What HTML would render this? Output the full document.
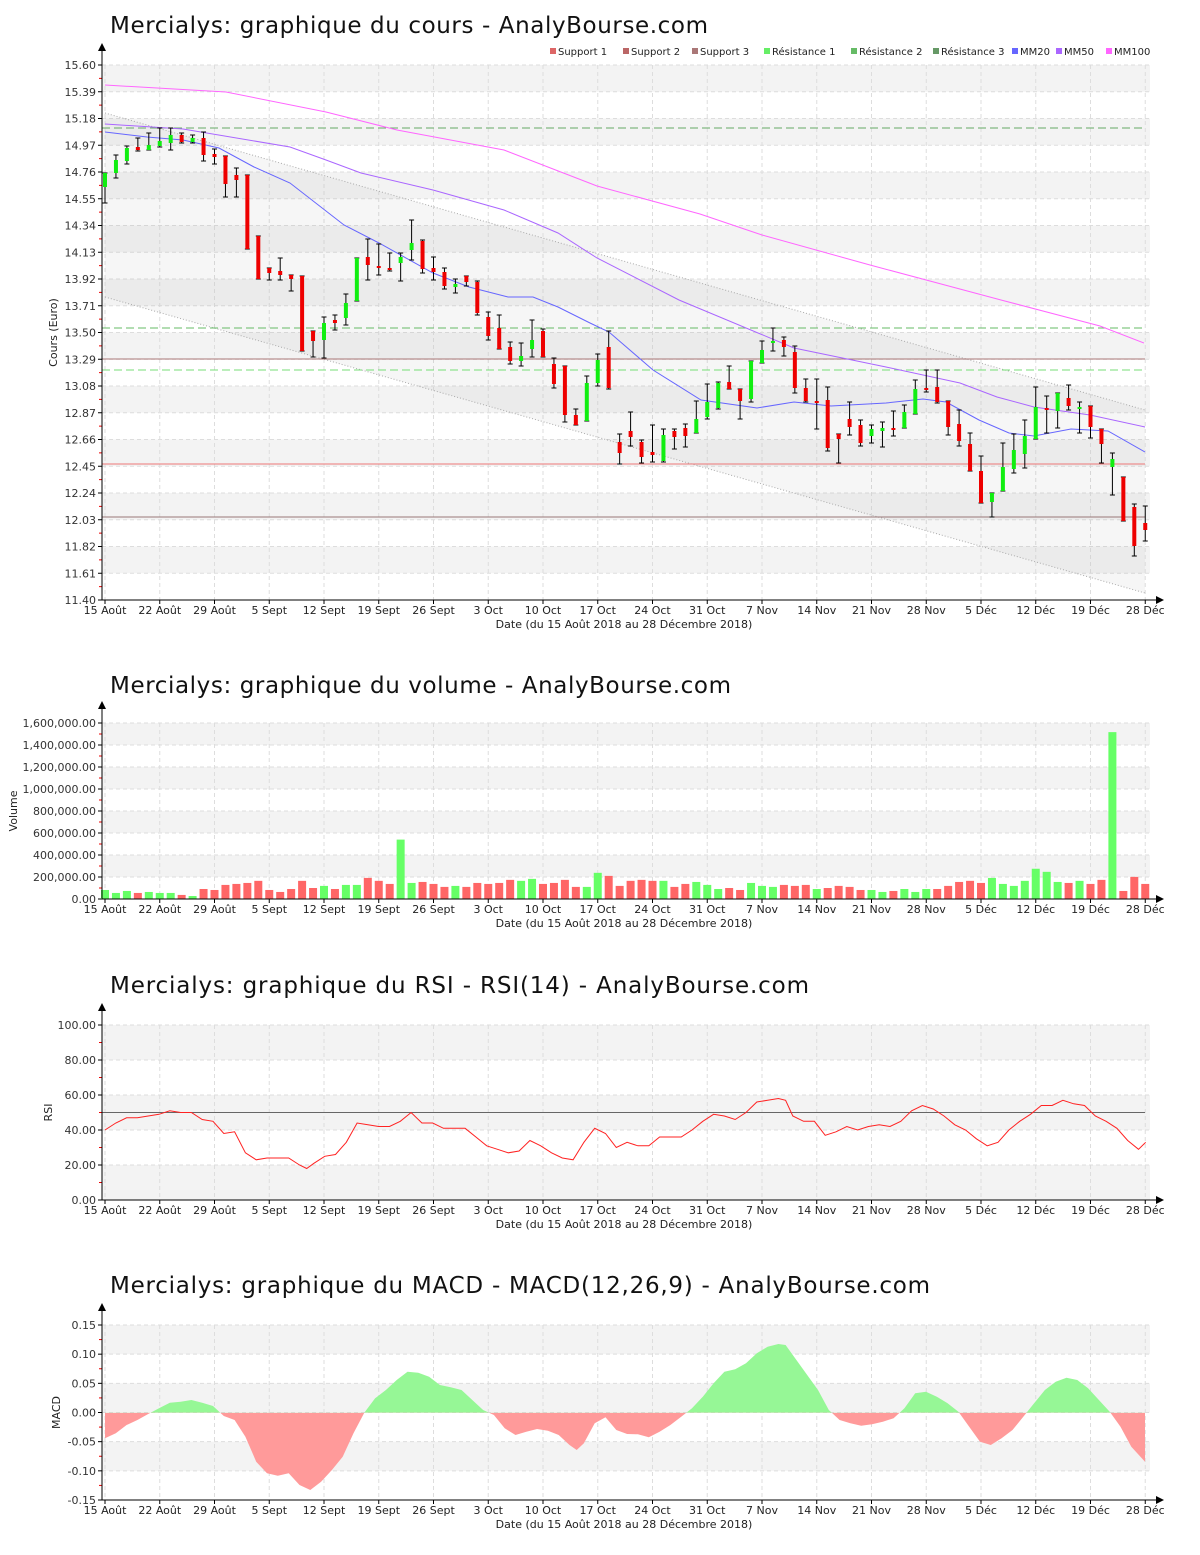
<!DOCTYPE html>
<html><head><meta charset="utf-8"><style>
body{margin:0;background:#fff;}
svg text{font-family:"DejaVu Sans","Liberation Sans",sans-serif;}
</style></head><body>
<svg id="s" width="1200" height="1550" xmlns="http://www.w3.org/2000/svg"></svg>
<script>
const S=document.getElementById('s');let h='';
const X0=105,DX=10.95,L=102,R=1150;
const xi=i=>X0+DX*i;
const zx=X=>(105+(X-89)*0.7202).toFixed(1);
const ticks=[['15 Août',0],['22 Août',5],['29 Août',10],['5 Sept',15],['12 Sept',20],['19 Sept',25],['26 Sept',30],['3 Oct',35],['10 Oct',40],['17 Oct',45],['24 Oct',50],['31 Oct',55],['7 Nov',60],['14 Nov',65],['21 Nov',70],['28 Nov',75],['5 Déc',80],['12 Déc',85],['19 Déc',90],['28 Déc',95]];
function frame(top,bot,labels,title,ty,ylab,ylx,tl){
  const n=labels.length-1, st=(bot-top)/n;
  for(let k=0;k<n;k++){ if(k%2==0) h+=`<rect x="${L}" y="${top+k*st}" width="${R-L}" height="${st}" fill="#f3f3f3"/>`;}
  for(let k=0;k<=n;k++){const y=top+k*st;h+=`<line x1="${L}" x2="${R}" y1="${y}" y2="${y}" stroke="#ddd" stroke-dasharray="4,3"/>`;
    h+=`<text x="96" y="${y+4}" font-size="11" text-anchor="end" fill="#333">${labels[k]}</text>`;
    h+=`<line x1="98" x2="102" y1="${y}" y2="${y}" stroke="#000"/>`;
    if(k<n)h+=`<line x1="99" x2="102" y1="${y+st/2}" y2="${y+st/2}" stroke="#e00"/>`;}
  ticks.forEach(([t,i])=>{const x=xi(i);h+=`<line x1="${x}" x2="${x}" y1="${top}" y2="${bot}" stroke="#ddd" stroke-dasharray="4,3"/>`;
    h+=`<line x1="${x}" x2="${x}" y1="${bot}" y2="${bot+4}" stroke="#000"/>`;
    h+=`<text x="${x}" y="${bot+14}" font-size="11" text-anchor="middle" fill="#222">${t}</text>`;});
  h+=`<text x="624" y="${bot+28}" font-size="11" text-anchor="middle" fill="#222">Date (du 15 Août 2018 au 28 Décembre 2018)</text>`;
  h+=`<text x="110" y="${ty}" font-size="23" fill="#111" textLength="${tl}" lengthAdjust="spacing">${title}</text>`;
  h+=`<text transform="translate(${ylx},${(top+bot)/2}) rotate(-90)" font-size="11" text-anchor="middle" fill="#222">${ylab}</text>`;
}
function axes(top,bot){
  h+=`<line x1="${L}" x2="${L}" y1="${top-18}" y2="${bot}" stroke="#000"/><path d="M${L-4} ${top-14}L${L} ${top-22}L${L+4} ${top-14}Z"/>`;
  h+=`<line x1="${L}" x2="1158" y1="${bot}" y2="${bot}" stroke="#000"/><path d="M1156 ${bot-4}L1164 ${bot}L1156 ${bot+4}Z"/>`;
}
// ===== PRICE
const pl=[];for(let k=0;k<=20;k++)pl.push((15.60-0.21*k).toFixed(2));
frame(65,600,pl,'Mercialys: graphique du cours - AnalyBourse.com',33,'Cours (Euro)',57,598);
h+=`<polygon points="105,113 1145,410 1145,593 105,297" fill="#888" fill-opacity="0.08"/>`;
h+=`<line x1="105" y1="113" x2="1145" y2="410" stroke="#aaa" stroke-dasharray="1,2"/>`;
h+=`<line x1="105" y1="297" x2="1145" y2="593" stroke="#aaa" stroke-dasharray="1,2"/>`;
h+=`<line x1="${L}" x2="1145" y1="128" y2="128" stroke="#6a6" stroke-dasharray="8,4"/>`;
h+=`<line x1="${L}" x2="1145" y1="328" y2="328" stroke="#6b6" stroke-dasharray="8,4"/>`;
h+=`<line x1="${L}" x2="1145" y1="370" y2="370" stroke="#7d7" stroke-dasharray="8,4"/>`;
h+=`<line x1="${L}" x2="1145" y1="359" y2="359" stroke="#a77"/>`;
h+=`<line x1="${L}" x2="1145" y1="464" y2="464" stroke="#e77"/>`;
h+=`<line x1="${L}" x2="1145" y1="517" y2="517" stroke="#977"/>`;
h+=`<polyline fill="none" stroke="#f6f" points="105,85 226,92 326,112 397,130 504,150 597,186 700,214 762,235 870,265 1001,300 1100,326 1144,343"/>`;
h+=`<polyline fill="none" stroke="#a6f" points="105,124 183,129 290,147 326,160 361,173 433,190 504,210 558,233 597,258 679,300 794,348 886,367 960,383 997,397 1034,407 1090,415 1145,427"/>`;
h+=`<polyline fill="none" stroke="#66f" points="105,132 147,137 183,140 219,148 254,167 290,183 344,225 379,243 433,273 469,287 508,297 533,297 558,307 590,323 609,332 653,370 701,400 757,408 794,402 831,406 886,403 923,399 946,402 979,420 1009,433 1034,436 1071,429 1108,431 1145,452"/>`;
const C=`g 173 187 173 203|g 160 173 155 178|g 148 161 146 164|r 147 150 138 151|g 145 150 133 150|g 141 146 128 147|g 135 143 128 150|r 135 142 133 143|g 138 142 135 143|r 138 155 132 161|r 154 157 149 164|r 156 184 156 197|r 175 180 168 197|r 175 249 175 249|r 236 279 236 279|r 268 273 268 280|r 271 275 258 280|r 275 279 275 291|r 276 351 276 351|r 331 341 331 357|g 323 340 317 358|r 320 323 315 330|g 303 318 294 325|g 258 301 258 301|r 257 265 239 280|r 266 268 244 275|r 268 270 253 271|g 257 263 253 281|g 243 250 220 260|r 241 269 240 273|r 268 272 257 280|r 272 286 268 289|g 284 287 279 293|r 276 282 276 286|r 282 313 281 315|r 317 336 312 340|r 328 349 315 349|r 347 361 342 364|g 356 361 343 366|g 340 349 320 357|r 331 357 329 357|r 364 384 358 388|r 366 415 366 422|r 415 425 409 425|g 383 421 376 421|g 360 383 354 386|r 347 388 331 389|r 442 453 434 464|r 431 437 412 446|r 442 457 440 463|r 452 455 425 462|g 435 461 429 462|r 431 437 429 449|r 428 436 424 447|g 419 433 401 433|g 402 417 384 419|g 383 408 382 409|r 382 389 366 389|r 389 401 389 419|g 361 399 361 402|g 350 363 341 363|g 341 343 328 351|r 340 347 337 356|r 352 388 346 393|r 388 401 379 402|r 401 402 379 429|r 400 448 387 451|r 434 439 434 463|r 419 427 402 435|r 425 443 420 446|g 429 436 425 443|g 428 431 422 447|r 428 430 411 436|g 412 428 405 428|g 389 414 380 414|r 388 390 370 392|r 387 402 370 403|r 401 427 401 435|r 424 441 410 446|r 444 471 433 471|r 471 503 456 503|g 493 502 493 517|g 467 491 443 491|g 450 469 434 473|g 436 454 420 468|g 407 439 387 439|r 408 409 396 433|g 393 411 393 428|r 398 406 385 410|g 407 409 402 433|r 406 427 406 438|r 429 444 429 463|g 459 467 453 495|r 477 521 477 521|r 507 546 504 556|r 523 530 506 541`.split('|');
C.forEach((c,i)=>{const [col,bt,bb,wt,wb]=c.split(' ');const x=xi(i);
  h+=`<line x1="${x}" x2="${x}" y1="${wt}" y2="${wb}" stroke="#000"/>`;
  h+=`<line x1="${x-2.5}" x2="${x+2.5}" y1="${wt}" y2="${wt}" stroke="#000"/><line x1="${x-2.5}" x2="${x+2.5}" y1="${wb}" y2="${wb}" stroke="#000"/>`;
  h+=`<rect x="${x-2}" y="${bt}" width="4" height="${Math.max(2,bb-bt)}" fill="${col=='g'?'#1e1':'#e00'}"/>`;});
axes(65,600);
[['Support 1','#d66',550],['Support 2','#b66',623],['Support 3','#a77',692],['Résistance 1','#6e6',764],['Résistance 2','#6b6',851],['Résistance 3','#696',933],['MM20','#66f',1012],['MM50','#a6f',1056],['MM100','#f6f',1106]].forEach(([t,c,x])=>{
 h+=`<rect x="${x}" y="48" width="6" height="6" fill="${c}"/><text x="${x+8}" y="55" font-size="10" fill="#222">${t}</text>`;});
// ===== VOLUME
const vl=[];for(let k=8;k>=0;k--)vl.push((k*200000).toLocaleString('en-US')+'.00');
frame(723,899,vl,'Mercialys: graphique du volume - AnalyBourse.com',693,'Volume',17,621);
const V=[82,55,73,55,64,55,55,37,27,91,82,128,137,146,165,82,64,91,165,100,119,91,128,128,192,165,137,540,146,155,137,110,119,110,146,137,146,174,165,183,137,146,174,110,110,238,210,119,165,174,165,165,110,137,155,128,91,100,82,146,119,110,128,119,128,91,100,119,110,82,82,64,73,91,64,91,91,119,155,165,146,192,137,119,165,275,247,155,146,165,137,174,1517,73,201,137];
const VC2='gggrgggrgr'+'rrrrrrrrrr'+'grggrrrggr'+'rrgrrrrrgg'+'rrrrggrrrr'+'rgrrgggrrg'+'ggrrrgrrrr'+'ggrgggrrrr'+'rgggggggrg'+'rrgrrr';
V.forEach((v,i)=>{const x=xi(i),hh=v*0.11;h+=`<rect x="${x-4}" y="${899-hh}" width="8" height="${hh}" fill="${VC2[i]=='g'?'#6f6':'#f66'}"/>`;});
axes(723,899);
// ===== RSI
frame(1025,1200,['100.00','80.00','60.00','40.00','20.00','0.00'],'Mercialys: graphique du RSI - RSI(14) - AnalyBourse.com',993,'RSI',52,699);
h+=`<line x1="${L}" x2="1145" y1="1112.5" y2="1112.5" stroke="#666"/>`;
const RS=[[89,40],[104,44],[119,47],[134,47],[149,48],[164,49],[179,51],[194,50],[209,50],[224,46],[239,45],[254,38],[269,39],[284,27],[299,23],[314,24],[329,24],[344,24],[359,20],[369,18],[379,21],[394,25],[409,26],[424,33],[439,44],[454,43],[469,42],[484,42],[499,45],[514,50],[529,44],[544,44],[559,41],[574,41],[589,41],[604,36],[619,31],[634,29],[649,27],[664,28],[679,34],[694,31],[709,27],[724,24],[739,23],[754,33],[769,41],[784,38],[799,30],[814,33],[829,31],[844,31],[859,36],[874,36],[889,36],[904,40],[919,45],[934,49],[949,48],[964,46],[979,50],[994,56],[1009,57],[1024,58],[1034,57],[1044,48],[1059,45],[1074,45],[1089,37],[1104,39],[1119,42],[1134,40],[1149,42],[1164,43],[1179,42],[1194,45],[1209,51],[1224,54],[1239,52],[1254,48],[1269,43],[1284,40],[1299,35],[1314,31],[1329,33],[1344,40],[1359,45],[1374,49],[1389,54],[1404,54],[1419,57],[1434,55],[1449,54],[1464,48],[1479,45],[1494,41],[1509,34],[1524,29],[1534,33]];
h+=`<polyline fill="none" stroke="#f22" points="${RS.map(([X,v])=>`${zx(X)},${(1200-v*1.75).toFixed(1)}`).join(' ')}"/>`;
axes(1025,1200);
// ===== MACD
frame(1325,1500,['0.15','0.10','0.05','0.00','-0.05','-0.10','-0.15'],'Mercialys: graphique du MACD - MACD(12,26,9) - AnalyBourse.com',1293,'MACD',60,820);
const M=[[89,385],[104,370],[119,345],[134,330],[149,312],[164,295],[179,278],[194,275],[209,270],[224,278],[239,288],[254,318],[269,330],[284,380],[299,455],[314,490],[329,497],[344,490],[359,525],[374,540],[389,515],[404,480],[419,440],[434,370],[449,308],[464,265],[479,240],[494,210],[509,185],[524,188],[539,200],[554,225],[569,232],[584,240],[599,270],[614,300],[629,315],[644,355],[659,375],[674,365],[689,357],[704,362],[719,375],[734,405],[744,420],[754,400],[769,340],[784,322],[799,360],[814,372],[829,373],[844,382],[859,365],[874,345],[889,320],[904,295],[919,260],[934,220],[949,185],[964,178],[979,160],[994,130],[1009,110],[1024,102],[1034,105],[1049,150],[1064,195],[1079,240],[1094,300],[1109,330],[1124,340],[1139,347],[1154,343],[1169,335],[1184,325],[1199,295],[1214,250],[1229,245],[1244,260],[1259,280],[1274,305],[1289,350],[1304,395],[1319,405],[1334,385],[1349,360],[1364,320],[1379,280],[1394,240],[1409,215],[1424,203],[1439,210],[1454,235],[1469,270],[1484,305],[1499,350],[1514,410],[1533,455]];
const z=1412.7;const pts=M.map(([X,Y])=>`${zx(X)},${(1310+Y/3).toFixed(1)}`);
const poly=`${zx(89)},${z} ${pts.join(' ')} ${zx(1533)},${z}`;
h+=`<clipPath id="up"><rect x="0" y="0" width="1200" height="${z}"/></clipPath><clipPath id="dn"><rect x="0" y="${z}" width="1200" height="200"/></clipPath>`;
h+=`<polygon points="${poly}" fill="#96f796" clip-path="url(#up)"/><polygon points="${poly}" fill="#ff9a9a" clip-path="url(#dn)"/>`;
axes(1325,1500);
S.innerHTML=h;
</script>
</body></html>
